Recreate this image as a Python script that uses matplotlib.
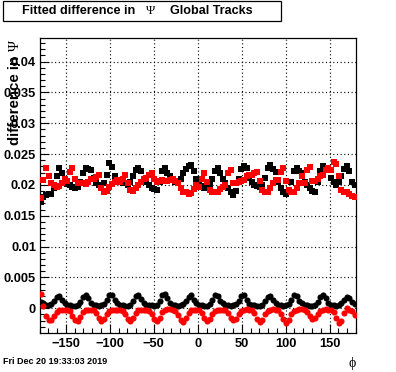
import numpy as np
import matplotlib
matplotlib.use("Agg")
import matplotlib.pyplot as plt
from matplotlib.patches import Rectangle
from matplotlib.ticker import MultipleLocator

# ---------------- data (phi in degrees, 3-degree bins) ----------------
phi = np.arange(120) * 3.0 - 178.5

black_squares = [
    0.0173, 0.0180, 0.0183, 0.0185, 0.0186, 0.0195, 0.0215, 0.0227, 0.0219, 0.0208,
    0.0202, 0.0200, 0.0197, 0.0195, 0.0196, 0.0205, 0.0220, 0.0227, 0.0225, 0.0224,
    0.0212, 0.0203, 0.0200, 0.0200, 0.0203, 0.0216, 0.0235, 0.0229, 0.0215, 0.0207,
    0.0204, 0.0203, 0.0203, 0.0200, 0.0205, 0.0215, 0.0224, 0.0227, 0.0222, 0.0210,
    0.0205, 0.0200, 0.0195, 0.0193, 0.0192, 0.0205, 0.0222, 0.0227, 0.0220, 0.0215,
    0.0208, 0.0205, 0.0203, 0.0210, 0.0219, 0.0225, 0.0230, 0.0232, 0.0222, 0.0210,
    0.0203, 0.0198, 0.0195, 0.0196, 0.0200, 0.0210, 0.0222, 0.0227, 0.0219, 0.0210,
    0.0203, 0.0195, 0.0188, 0.0184, 0.0190, 0.0210, 0.0225, 0.0230, 0.0227, 0.0212,
    0.0205, 0.0200, 0.0198, 0.0197, 0.0200, 0.0212, 0.0228, 0.0232, 0.0225, 0.0221,
    0.0205, 0.0195, 0.0188, 0.0186, 0.0190, 0.0205, 0.0222, 0.0227, 0.0222, 0.0219,
    0.0205, 0.0200, 0.0195, 0.0190, 0.0189, 0.0205, 0.0222, 0.0230, 0.0228, 0.0227,
    0.0212, 0.0205, 0.0200, 0.0205, 0.0215, 0.0225, 0.0230, 0.0222, 0.0205, 0.0200,
]
red_squares = [
    0.0178, 0.0208, 0.0227, 0.0215, 0.0203, 0.0200, 0.0197, 0.0198, 0.0203, 0.0210,
    0.0207, 0.0221, 0.0227, 0.0210, 0.0203, 0.0203, 0.0203, 0.0202, 0.0205, 0.0209,
    0.0210, 0.0213, 0.0216, 0.0195, 0.0189, 0.0190, 0.0196, 0.0202, 0.0205, 0.0208,
    0.0205, 0.0210, 0.0216, 0.0203, 0.0192, 0.0190, 0.0195, 0.0200, 0.0205, 0.0210,
    0.0212, 0.0216, 0.0219, 0.0210, 0.0205, 0.0207, 0.0208, 0.0206, 0.0207, 0.0208,
    0.0210, 0.0207, 0.0203, 0.0195, 0.0189, 0.0188, 0.0186, 0.0187, 0.0193, 0.0200,
    0.0197, 0.0210, 0.0219, 0.0205, 0.0192, 0.0189, 0.0189, 0.0189, 0.0194, 0.0197,
    0.0200, 0.0219, 0.0224, 0.0203, 0.0203, 0.0205, 0.0207, 0.0208, 0.0214, 0.0216,
    0.0216, 0.0219, 0.0221, 0.0206, 0.0192, 0.0189, 0.0189, 0.0195, 0.0203, 0.0208,
    0.0208, 0.0221, 0.0227, 0.0206, 0.0192, 0.0189, 0.0189, 0.0195, 0.0203, 0.0215,
    0.0203, 0.0224, 0.0229, 0.0206, 0.0206, 0.0210, 0.0214, 0.0216, 0.0224, 0.0228,
    0.0224, 0.0237, 0.0234, 0.0214, 0.0192, 0.0189, 0.0189, 0.0186, 0.0182, 0.0180,
]
black_circles = [
    0.0011, 0.0008, 0.0006, 0.0005, 0.0007, 0.0012, 0.0019, 0.0020, 0.0013, 0.0008,
    0.0006, 0.0005, 0.0004, 0.0004, 0.0006, 0.0011, 0.0018, 0.0021, 0.0016, 0.0009,
    0.0006, 0.0005, 0.0004, 0.0005, 0.0007, 0.0013, 0.0021, 0.0022, 0.0014, 0.0008,
    0.0006, 0.0005, 0.0004, 0.0004, 0.0006, 0.0012, 0.0020, 0.0022, 0.0015, 0.0008,
    0.0006, 0.0005, 0.0005, 0.0004, 0.0006, 0.0012, 0.0021, 0.0023, 0.0016, 0.0009,
    0.0006, 0.0005, 0.0004, 0.0005, 0.0007, 0.0012, 0.0019, 0.0021, 0.0014, 0.0008,
    0.0006, 0.0005, 0.0004, 0.0004, 0.0007, 0.0013, 0.0022, 0.0020, 0.0012, 0.0008,
    0.0006, 0.0005, 0.0004, 0.0005, 0.0007, 0.0012, 0.0020, 0.0022, 0.0013, 0.0007,
    0.0006, 0.0005, 0.0004, 0.0004, 0.0006, 0.0012, 0.0019, 0.0020, 0.0013, 0.0008,
    0.0006, 0.0005, 0.0004, 0.0005, 0.0007, 0.0014, 0.0022, 0.0020, 0.0012, 0.0008,
    0.0006, 0.0005, 0.0004, 0.0004, 0.0006, 0.0011, 0.0018, 0.0021, 0.0016, 0.0009,
    0.0006, 0.0005, 0.0004, 0.0005, 0.0008, 0.0014, 0.0019, 0.0017, 0.0010, 0.0007,
]
red_circles = [
    0.0024, 0.0003, -0.0012, -0.0019, -0.0019, -0.0012, -0.0006, -0.0003, -0.0002, -0.0003,
    -0.0003, -0.0005, -0.0012, -0.0019, -0.0020, -0.0014, -0.0006, -0.0003, -0.0002, -0.0002,
    -0.0003, -0.0007, -0.0015, -0.0020, -0.0017, -0.0009, -0.0004, -0.0002, -0.0002, -0.0003,
    -0.0002, -0.0004, -0.0010, -0.0018, -0.0021, -0.0016, -0.0007, -0.0003, -0.0002, -0.0002,
    -0.0002, -0.0004, -0.0010, -0.0017, -0.0020, -0.0015, -0.0006, -0.0002, -0.0001, -0.0001,
    -0.0002, -0.0004, -0.0011, -0.0019, -0.0022, -0.0016, -0.0007, -0.0003, -0.0002, -0.0002,
    -0.0003, -0.0008, -0.0016, -0.0021, -0.0017, -0.0009, -0.0004, -0.0002, -0.0002, -0.0002,
    -0.0003, -0.0007, -0.0015, -0.0019, -0.0017, -0.0009, -0.0004, -0.0002, -0.0001, -0.0002,
    -0.0003, -0.0008, -0.0017, -0.0022, -0.0019, -0.0010, -0.0004, -0.0002, -0.0001, -0.0002,
    -0.0003, -0.0009, -0.0018, -0.0023, -0.0019, -0.0010, -0.0004, -0.0002, -0.0001, -0.0001,
    -0.0002, -0.0006, -0.0013, -0.0018, -0.0016, -0.0009, -0.0004, -0.0002, -0.0001, -0.0002,
    -0.0002, -0.0006, -0.0015, -0.0024, -0.0020, -0.0008, 0.0000, -0.0002, -0.0005, -0.0011,
]

x_ticks = [-150, -100, -50, 0, 50, 100, 150]
x_tick_labels = ["\u2212150", "\u2212100", "\u221250", "0", "50", "100", "150"]
y_ticks = [0.0, 0.005, 0.01, 0.015, 0.02, 0.025, 0.03, 0.035, 0.04]
y_tick_labels = ["0", "0.005", "0.01", "0.015", "0.02", "0.025", "0.03", "0.035", "0.04"]

title_left = "Fitted difference in"
title_sym = "\u03a8"
title_right = "Global Tracks"
y_label_text = "difference in"
y_label_sym = "\u03a8"
x_label = "\u03d5"
date_text = "Fri Dec 20 19:33:03 2019"

# ---------------- figure ----------------
W, H = 396, 372
fig = plt.figure(figsize=(W / 100, H / 100), dpi=100)
fig.patch.set_facecolor("white")

L, R, T, B = 39.5, 356.0, 37.7, 332.7
ax = fig.add_axes([L / W, 1 - B / H, (R - L) / W, (B - T) / H])
ax.set_xlim(-180, 180)
ax.set_ylim(-0.00395, 0.04386)

for s in ax.spines.values():
    s.set_linewidth(0.9)
    s.set_color("black")

ax.set_xticks(x_ticks)
ax.set_xticklabels(x_tick_labels)
ax.set_yticks(y_ticks)
ax.set_yticklabels(y_tick_labels)
ax.xaxis.set_minor_locator(MultipleLocator(10))
ax.yaxis.set_minor_locator(MultipleLocator(0.001))

for lab in ax.get_xticklabels() + ax.get_yticklabels():
    lab.set_fontfamily("Liberation Sans")
    lab.set_fontweight("bold")
    lab.set_fontsize(9.3)

ax.tick_params(axis="both", which="both", direction="in", top=False, right=False,
               width=0.8, color="black")
ax.tick_params(axis="y", which="major", length=6.5, pad=2.5)
ax.tick_params(axis="y", which="minor", length=3.3)
ax.tick_params(axis="x", which="major", length=6.5, pad=4)
ax.tick_params(axis="x", which="minor", length=3.3)

ax.grid(True, which="major", color="black", linewidth=0.85, linestyle=(0, (0.9, 2.2)))
ax.set_axisbelow(True)

ms_sq = 3.8
ms_ci = 4.4
ax.plot(phi, black_squares, "s", color="black", ms=ms_sq, mew=0, zorder=3)
ax.plot(phi, red_squares, "s", color="#ff0000", ms=ms_sq, mew=0, zorder=4)
ax.plot(phi, black_circles, "o", color="black", ms=ms_ci, mew=0, zorder=3)
ax.plot(phi, red_circles, "o", color="#ff0000", ms=ms_ci, mew=0, zorder=4)

# ---------------- title box ----------------
def fx(px):
    return px / W

def fy(py):
    return 1 - py / H

fig.patches.append(Rectangle((fx(3), fy(20.7)), fx(281) - fx(3), fy(1) - fy(20.7),
                             transform=fig.transFigure, facecolor="white",
                             edgecolor="black", linewidth=0.9, zorder=5))
fig.text(fx(21.5), fy(11), title_left, ha="left", va="center",
         family="Liberation Sans", weight="bold", size=9.1, zorder=6)
fig.text(fx(151), fy(11), title_sym, ha="center", va="center",
         family="Liberation Serif", size=9.1, zorder=6)
fig.text(fx(170), fy(11), title_right, ha="left", va="center",
         family="Liberation Sans", weight="bold", size=9.1, zorder=6)

# ---------------- axis labels ----------------
fig.text(fx(15.5), fy(56), y_label_text, rotation=90, ha="center", va="top",
         family="Liberation Sans", weight="bold", size=10.8)
fig.text(fx(15.5), fy(47), y_label_sym, rotation=90, ha="center", va="center",
         family="Liberation Serif", size=10.8)
fig.text(fx(352), fy(363), x_label, ha="center", va="center",
         family=["Liberation Serif", "DejaVu Serif"], size=10)
fig.text(fx(3), fy(362), date_text, ha="left", va="center",
         family="Liberation Sans", weight="bold", size=6.5)

fig.savefig("out.png", dpi=100)
